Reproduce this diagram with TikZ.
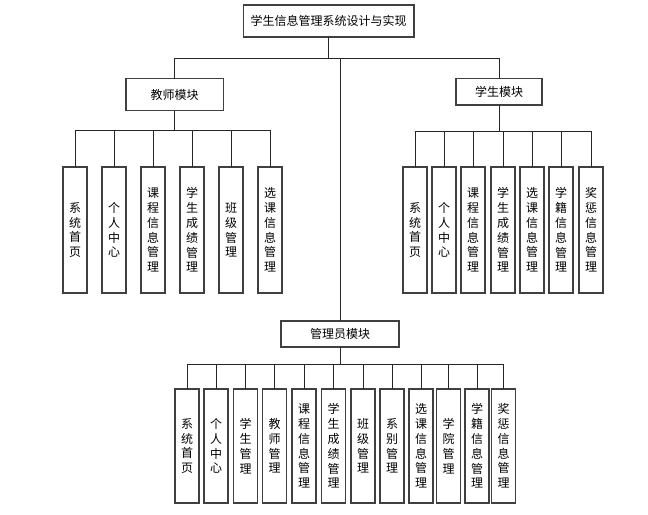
\documentclass[tikz,border=0pt]{standalone}
\usepackage{fontspec}
\newfontfamily\cjk{Noto Sans CJK SC}
\tikzset{
  box/.style={draw=black!75, line width=1pt, fill=white, inner sep=0pt, outer sep=0pt,
    font=\cjk\fontsize{9pt}{11.1pt}\selectfont, align=center},
  leaf/.style={box, minimum width=18pt, minimum height=94.5pt},
  aleaf/.style={box, minimum width=18pt, minimum height=85.5pt},
  tline/.style={draw=black!85, line width=0.75pt}
}
\begin{document}
\begin{tikzpicture}[x=0.75pt,y=-0.75pt]
    \useasboundingbox (0,0) rectangle (648,514);
    \coordinate (topbar) at (0,58.3);
    \coordinate (tbar) at (0,130.5);
    \coordinate (sbar) at (0,131.5);
    \coordinate (abar) at (0,364.3);
    % top and modules
    \node[box, minimum width=128pt, minimum height=24pt] (title) at (328.5,21) {学生信息管理系统设计与实现};
    \node[box, minimum width=73pt, minimum height=24pt] (teacher) at (174.7,94.5) {教师模块};
    \node[box, minimum width=64.5pt, minimum height=20pt] (student) at (499,91.7) {学生模块};
    \node[box, minimum width=88.5pt, minimum height=19.5pt] (admin) at (340,334) {管理员模块};
    \path[tline] (title.south) -- (title.south |- topbar);
    \path[tline] (teacher.north) |- (student.north |- topbar) -- (student.north);
    \path[tline] (admin.north |- topbar) -- (admin.north);
    % teacher
    \node[leaf] (t1) at (75,230) {系\\统\\首\\页};
    \node[leaf] (t2) at (114,230) {个\\人\\中\\心};
    \node[leaf] (t3) at (153,230) {课\\程\\信\\息\\管\\理};
    \node[leaf] (t4) at (192,230) {学\\生\\成\\绩\\管\\理};
    \node[leaf] (t5) at (231,230) {班\\级\\管\\理};
    \node[leaf] (t6) at (270,230) {选\\课\\信\\息\\管\\理};
    \path[tline] (teacher.south) -- (teacher.south |- tbar);
    \path[tline] (t1.north) |- (t6.north |- tbar) -- (t6.north);
    \path[tline] (t2.north) -- (t2.north |- tbar);
    \path[tline] (t3.north) -- (t3.north |- tbar);
    \path[tline] (t4.north) -- (t4.north |- tbar);
    \path[tline] (t5.north) -- (t5.north |- tbar);
    % student
    \node[leaf] (s1) at (415,230) {系\\统\\首\\页};
    \node[leaf] (s2) at (444,230) {个\\人\\中\\心};
    \node[leaf] (s3) at (473,230) {课\\程\\信\\息\\管\\理};
    \node[leaf] (s4) at (503,230) {学\\生\\成\\绩\\管\\理};
    \node[leaf] (s5) at (532,230) {选\\课\\信\\息\\管\\理};
    \node[leaf] (s6) at (561,230) {学\\籍\\信\\息\\管\\理};
    \node[leaf] (s7) at (591,230) {奖\\惩\\信\\息\\管\\理};
    \path[tline] (student.south) -- (student.south |- sbar);
    \path[tline] (s1.north) |- (s7.north |- sbar) -- (s7.north);
    \path[tline] (s2.north) -- (s2.north |- sbar);
    \path[tline] (s3.north) -- (s3.north |- sbar);
    \path[tline] (s4.north) -- (s4.north |- sbar);
    \path[tline] (s5.north) -- (s5.north |- sbar);
    \path[tline] (s6.north) -- (s6.north |- sbar);
    % admin
    \node[aleaf] (a1) at (187,446) {系\\统\\首\\页};
    \node[aleaf] (a2) at (216,446) {个\\人\\中\\心};
    \node[aleaf] (a3) at (245.5,446) {学\\生\\管\\理};
    \node[aleaf] (a4) at (274.7,446) {教\\师\\管\\理};
    \node[aleaf] (a5) at (304,446) {课\\程\\信\\息\\管\\理};
    \node[aleaf] (a6) at (333.7,446) {学\\生\\成\\绩\\管\\理};
    \node[aleaf] (a7) at (363,446) {班\\级\\管\\理};
    \node[aleaf] (a8) at (392,446) {系\\别\\管\\理};
    \node[aleaf] (a9) at (421,446) {选\\课\\信\\息\\管\\理};
    \node[aleaf] (a10) at (448.7,446) {学\\院\\管\\理};
    \node[aleaf] (a11) at (477,446) {学\\籍\\信\\息\\管\\理};
    \node[aleaf] (a12) at (503.7,446) {奖\\惩\\信\\息\\管\\理};
    \path[tline] (admin.south) -- (admin.south |- abar);
    \path[tline] (a1.north) |- (a12.north |- abar) -- (a12.north);
    \path[tline] (a2.north) -- (a2.north |- abar);
    \path[tline] (a3.north) -- (a3.north |- abar);
    \path[tline] (a4.north) -- (a4.north |- abar);
    \path[tline] (a5.north) -- (a5.north |- abar);
    \path[tline] (a6.north) -- (a6.north |- abar);
    \path[tline] (a7.north) -- (a7.north |- abar);
    \path[tline] (a8.north) -- (a8.north |- abar);
    \path[tline] (a9.north) -- (a9.north |- abar);
    \path[tline] (a10.north) -- (a10.north |- abar);
    \path[tline] (a11.north) -- (a11.north |- abar);
  \end{tikzpicture}
\end{document}
